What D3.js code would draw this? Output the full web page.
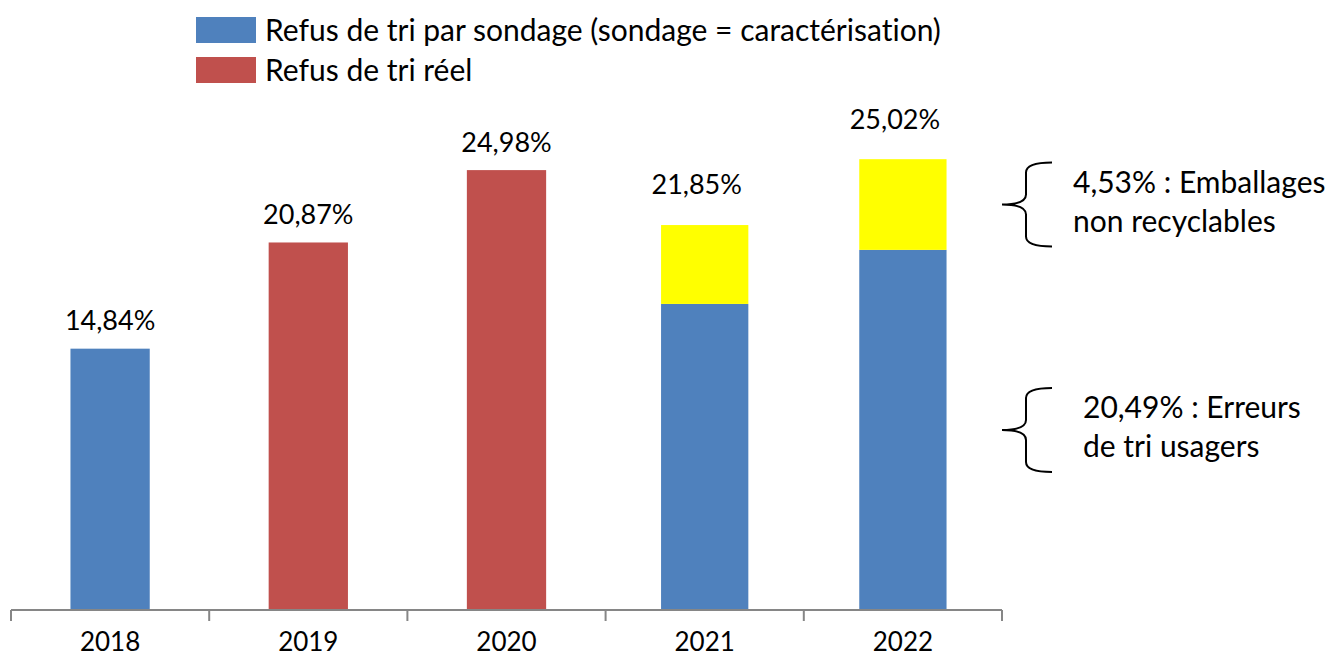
<!DOCTYPE html>
<html>
<head>
<meta charset="utf-8">
<script src="https://cdn.jsdelivr.net/npm/d3@7"></script>
<style>
  body { margin: 0; background: #fff; }
  text { font-family: Lato, "Open Sans", sans-serif; fill: #000; font-variant-ligatures: none; }
</style>
</head>
<body>
<div id="io"></div>
<script>
// years on the x axis
const YEARS = ['2018', '2019', '2020', '2021', '2022'];
// blue = refus de tri par sondage, red = refus de tri reel, yellow = emballages non recyclables
const SONDAGE = [14.84, 0, 0, 17.38, 20.45];
const REEL = [0, 20.87, 24.98, 0, 0];
const EMBALLAGES = [0, 0, 0, 4.48, 5.15];
const LABELS = ['14,84%', '20,87%', '24,98%', '21,85%', '25,02%'];
const LEGEND = ['Refus de tri par sondage (sondage = caractérisation)', 'Refus de tri réel'];
const NOTE_TOP = ['4,53% : Emballages', 'non recyclables'];
const NOTE_BOTTOM = ['20,49% : Erreurs', 'de tri usagers'];

const W = 1328, H = 659;
const svg = d3.select('#io').append('svg').attr('width', W).attr('height', H);

const xScale = d3.scaleBand()
  .domain(YEARS)
  .range([11, 1002])
  .paddingInner(0.6)
  .paddingOuter(0.3);

const yScale = d3.scaleLinear().domain([0, 30]).range([610, 610 - 30 * 17.61]);

const color = { sondage: '#4F81BD', reel: '#C0504D', emb: '#FFFF00' };

const rows = YEARS.map((y, i) => ({
  year: y, sondage: SONDAGE[i], reel: REEL[i], emb: EMBALLAGES[i], label: LABELS[i]
}));
const stack = d3.stack().keys(['sondage', 'reel', 'emb'])(rows);

// stacked bars are a bit wider in the original
const extra = d => (d.data.emb > 0 ? 4 : 0);

svg.append('g').selectAll('g')
  .data(stack)
  .enter().append('g')
  .style('fill', s => color[s.key])
  .selectAll('rect')
  .data(s => s.filter(d => d[1] > d[0]))
  .enter().append('rect')
  .attr('x', d => xScale(d.data.year) - extra(d))
  .attr('width', d => xScale.bandwidth() + 2 * extra(d))
  .attr('y', d => yScale(d[1]))
  .attr('height', d => yScale(d[0]) - yScale(d[1]));

// value labels
const total = d => d.sondage + d.reel + d.emb;
svg.append('g').selectAll('text')
  .data(rows)
  .enter().append('text')
  .attr('x', d => xScale(d.year) + xScale.bandwidth() / 2 - (d.emb > 0 ? 8 : 0))
  .attr('y', d => yScale(total(d)) - (d.emb > 0 ? 40 : 28))
  .attr('dy', '0.35em')
  .attr('text-anchor', 'middle')
  .style('font-size', '27px')
  .text(d => d.label);

// x axis with ticks between categories
const axis = svg.append('g');
axis.append('line')
  .attr('x1', 11).attr('x2', 1002).attr('y1', 610).attr('y2', 610)
  .style('stroke', '#868686').style('stroke-width', 2);
const step = xScale.step();
const edges = YEARS.map(y => xScale(y) - step * 0.3).concat([xScale(YEARS[YEARS.length - 1]) - step * 0.3 + step]);
axis.selectAll('.tick')
  .data(edges)
  .enter().append('line')
  .attr('x1', d => d).attr('x2', d => d)
  .attr('y1', 610).attr('y2', 621)
  .style('stroke', '#868686').style('stroke-width', 2);
axis.selectAll('.lab')
  .data(YEARS)
  .enter().append('text')
  .attr('x', d => xScale(d) + xScale.bandwidth() / 2)
  .attr('y', 642)
  .attr('dy', '0.35em')
  .attr('text-anchor', 'middle')
  .style('font-size', '26px')
  .text(d => d);

// legend
const leg = svg.append('g');
LEGEND.forEach((t, i) => {
  leg.append('rect').attr('x', 196).attr('y', 17 + i * 40).attr('width', 60).attr('height', 26)
    .style('fill', i === 0 ? color.sondage : color.reel);
  leg.append('text').attr('x', 265).attr('y', 30 + i * 40).attr('dy', '0.35em')
    .style('font-size', '30px').text(t);
});

// braces for the 2022 bar
function brace(cy, half) {
  const x0 = 1002, xm = 1026, x1 = 1052;
  return `M${x1},${cy - half} Q${xm},${cy - half} ${xm},${cy - half + 10}` +
    ` L${xm},${cy - 10} Q${xm},${cy} ${x0},${cy}` +
    ` Q${xm},${cy} ${xm},${cy + 10} L${xm},${cy + half - 10}` +
    ` Q${xm},${cy + half} ${x1},${cy + half}`;
}
const last = rows[rows.length - 1];
const embMid = (yScale(last.sondage) + yScale(last.sondage + last.emb)) / 2;
const sonMid = (yScale(0) + yScale(last.sondage)) / 2;
[[embMid, NOTE_TOP, 1073], [sonMid, NOTE_BOTTOM, 1083]].forEach(([cy, lines, tx]) => {
  svg.append('path').attr('d', brace(cy, 42))
    .style('fill', 'none').style('stroke', '#000').style('stroke-width', 2);
  lines.forEach((l, j) => {
    svg.append('text').attr('x', tx).attr('y', cy - 22 + j * 39).attr('dy', '0.35em')
      .style('font-size', '30px').text(l);
  });
});
</script>
</body>
</html>
